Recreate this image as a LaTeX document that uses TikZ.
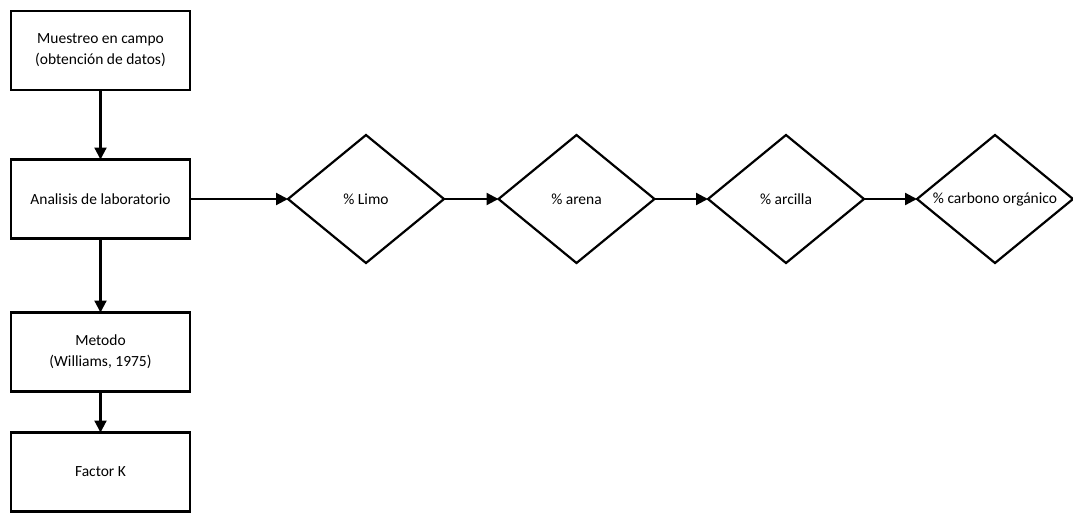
\documentclass[tikz,border=0pt]{standalone}
\usepackage{fontspec}
\setmainfont{Carlito}
\usetikzlibrary{shapes.geometric,arrows.meta}
\begin{document}
\begin{tikzpicture}[x=1pt,y=-1pt,
  every node/.style={font=\fontsize{15.5}{21}\selectfont, outer sep=0pt},
  procbox/.style={draw, line width=2.2pt, minimum width=179pt, minimum height=79pt, align=center, inner sep=0pt},
  decbox/.style={draw, line width=2.2pt, diamond, minimum width=156pt, minimum height=128pt, inner sep=0pt},
  conn/.style={line width=2.2pt, -{Triangle[length=12pt,width=12pt]}}]
\useasboundingbox (0,0) rectangle (1073,512);
\node[procbox] (b1) at (100.5,50.5) {Muestreo en campo\\(obtención de datos)};
\node[procbox] (b2) at (100.5,199) {Analisis de laboratorio};
\node[procbox] (b3) at (100.5,352) {Metodo\\(Williams, 1975)};
\node[procbox] (b4) at (100.5,472) {Factor K};
\node[decbox, label=center:{\% Limo}] (d1) at (366,199) {};
\node[decbox, label=center:{\% arena}] (d2) at (576.5,199) {};
\node[decbox, label=center:{\% arcilla}] (d3) at (786,199) {};
\node[decbox, label=center:{\% carbono orgánico}] (d4) at (995,199) {};
\draw[conn] (b1) -- (b2);
\draw[conn] (b2) -- (b3);
\draw[conn] (b3) -- (b4);
\draw[conn] (b2) -- (d1);
\draw[conn] (d1) -- (d2);
\draw[conn] (d2) -- (d3);
\draw[conn] (d3) -- (d4);
\end{tikzpicture}
\end{document}
